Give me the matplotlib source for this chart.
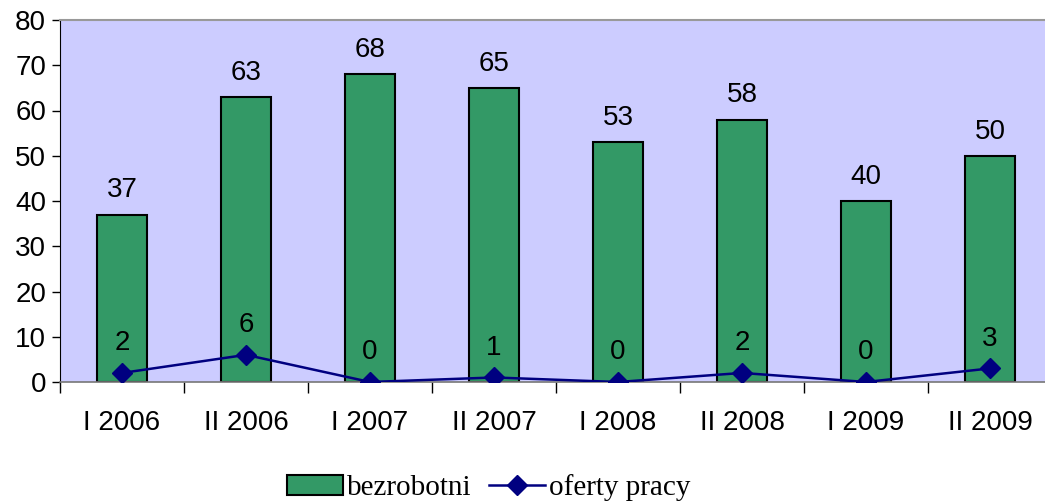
import matplotlib
matplotlib.use("Agg")
import matplotlib.pyplot as plt
import numpy as np

categories = ["I 2006", "II 2006", "I 2007", "II 2007", "I 2008", "II 2008", "I 2009", "II 2009"]
bezrobotni = [37, 63, 68, 65, 53, 58, 40, 50]
oferty = [2, 6, 0, 1, 0, 2, 0, 3]

W, H = 1045, 504
fig = plt.figure(figsize=(W / 100, H / 100), dpi=100)
left, right, top, bottom = 60, 1052, 20, 382
ax = fig.add_axes([left / W, 1 - bottom / H, (right - left) / W, (bottom - top) / H])
ax.set_facecolor("#CCCCFF")

x = np.arange(len(categories))
bars = ax.bar(x, bezrobotni, width=0.4, color="#339966", edgecolor="black", linewidth=1.5,
              label="bezrobotni", zorder=2)
line, = ax.plot(x, oferty, color="#000080", marker="D", markersize=10, linewidth=1.8,
                label="oferty pracy", zorder=3)

font = "Liberation Sans"
fs = 20
for xi, v in zip(x, bezrobotni):
    ax.annotate(str(v), (xi, v), xytext=(0, 8), textcoords="offset points",
                ha="center", va="bottom", fontsize=fs, family=font)
for xi, v in zip(x, oferty):
    ax.annotate(str(v), (xi, v), xytext=(0, 12), textcoords="offset points",
                ha="center", va="bottom", fontsize=fs, family=font)

ax.set_xlim(-0.5, len(categories) - 0.5)
ax.set_ylim(0, 80)
ax.set_yticks(range(0, 81, 10))
ax.set_yticklabels([str(v) for v in range(0, 81, 10)], family=font, fontsize=fs)
ax.set_xticks(x)
ax.set_xticklabels(categories, family=font, fontsize=fs)
ax.tick_params(axis="x", length=0, pad=20)
ax.set_xticks(np.arange(-0.5, len(categories), 1), minor=True)
ax.tick_params(axis="x", which="minor", length=8, direction="out", color="black", width=1)
ax.tick_params(axis="y", length=6, direction="out", width=1, pad=4)

ax.spines["top"].set_color("#999999")
ax.spines["top"].set_linewidth(1.5)
ax.spines["right"].set_visible(False)
ax.spines["bottom"].set_color("#777777")
ax.spines["bottom"].set_linewidth(1.2)
ax.spines["left"].set_color("black")

leg = fig.legend(handles=[bars, line], labels=["bezrobotni", "oferty pracy"],
                 loc="center", bbox_to_anchor=(489 / W, 1 - 488 / H), ncol=2,
                 frameon=False, prop={"family": "Liberation Serif", "size": 21},
                 handlelength=1.9, handletextpad=0.15, columnspacing=0.6)

fig.savefig("out.png", dpi=100)
